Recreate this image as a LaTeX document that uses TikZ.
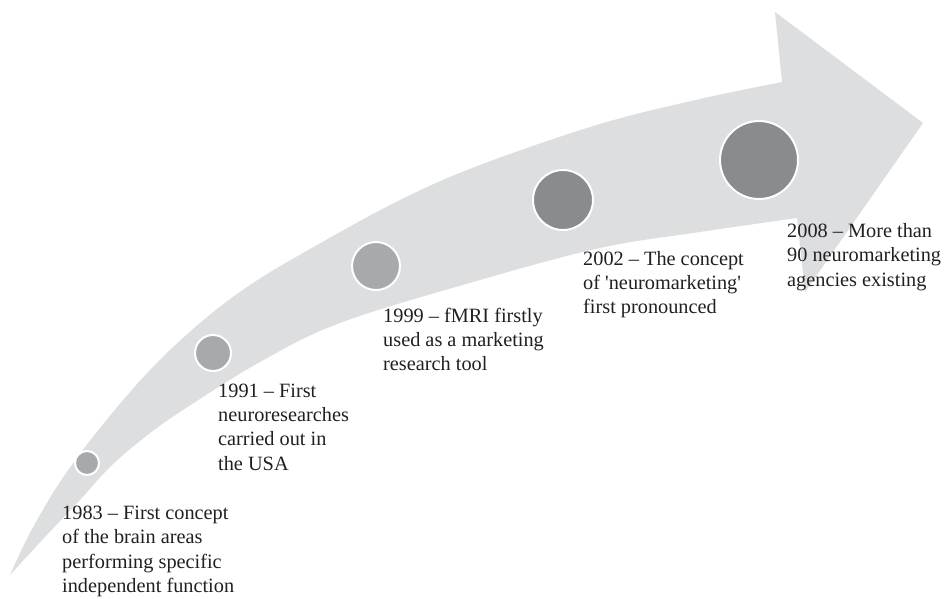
\documentclass[tikz,border=0pt]{standalone}
\usepackage{fontspec}
\setmainfont{Liberation Serif}
\definecolor{band}{HTML}{DDDEE0}
\definecolor{dotlight}{HTML}{A7A9AC}
\definecolor{dotdark}{HTML}{8A8B8F}
\definecolor{ink}{HTML}{231F20}
\begin{document}
\begin{tikzpicture}[x=1pt,y=-1pt,
  milestone/.style={circle, fill=#1, draw=white, line width=2pt, inner sep=0pt},
  % captions are placed by the baseline of their last line
  caption/.style={anchor=base west, align=left, inner sep=0pt, text=ink,
    font=\fontsize{20.3}{24.3}\selectfont}]
\useasboundingbox (0,0) rectangle (948,598);

% curved timeline band ending in an arrow head
\fill[band]
  plot[smooth, tension=0.6] coordinates {
    (10,575) (30,533) (60,482) (100,428) (150,370) (200,323) (250,285)
    (310,249) (400,200) (480,165) (600,124) (700,99) (782,82)}
  -- (775,12) -- (923,123) -- (805,292)
  -- plot[smooth, tension=0.6] coordinates {
    (797,218) (700,232) (600,248) (473,282) (340,323) (260,362)
    (183,410) (145,437) (110,467) (80,500) (45,537) (10,575)}
  -- cycle;

% milestone dots
\node[milestone=dotlight, minimum size=24pt] (m1983) at (87,463) {};
\node[milestone=dotlight, minimum size=36pt] (m1991) at (213,353) {};
\node[milestone=dotlight, minimum size=48pt] (m1999) at (376,266) {};
\node[milestone=dotdark,  minimum size=60pt] (m2002) at (563,200) {};
\node[milestone=dotdark,  minimum size=78pt] (m2008) at (759,160) {};

% milestone captions
\node[caption] (t1983) at (62,592.5)
  {1983 – First concept\\of the brain areas\\performing specific\\independent function};
\node[caption] (t1991) at (218,470)
  {1991 – First\\neuroresearches\\carried out in\\the USA};
\node[caption] (t1999) at (383,370.6)
  {1999 – fMRI firstly\\used as a marketing\\research tool};
\node[caption] (t2002) at (583,313.6)
  {2002 – The concept\\of \textquotesingle neuromarketing\textquotesingle\\first pronounced};
\node[caption] (t2008) at (787,286)
  {2008 – More than\\90 neuromarketing\\agencies existing};
\end{tikzpicture}
\end{document}
